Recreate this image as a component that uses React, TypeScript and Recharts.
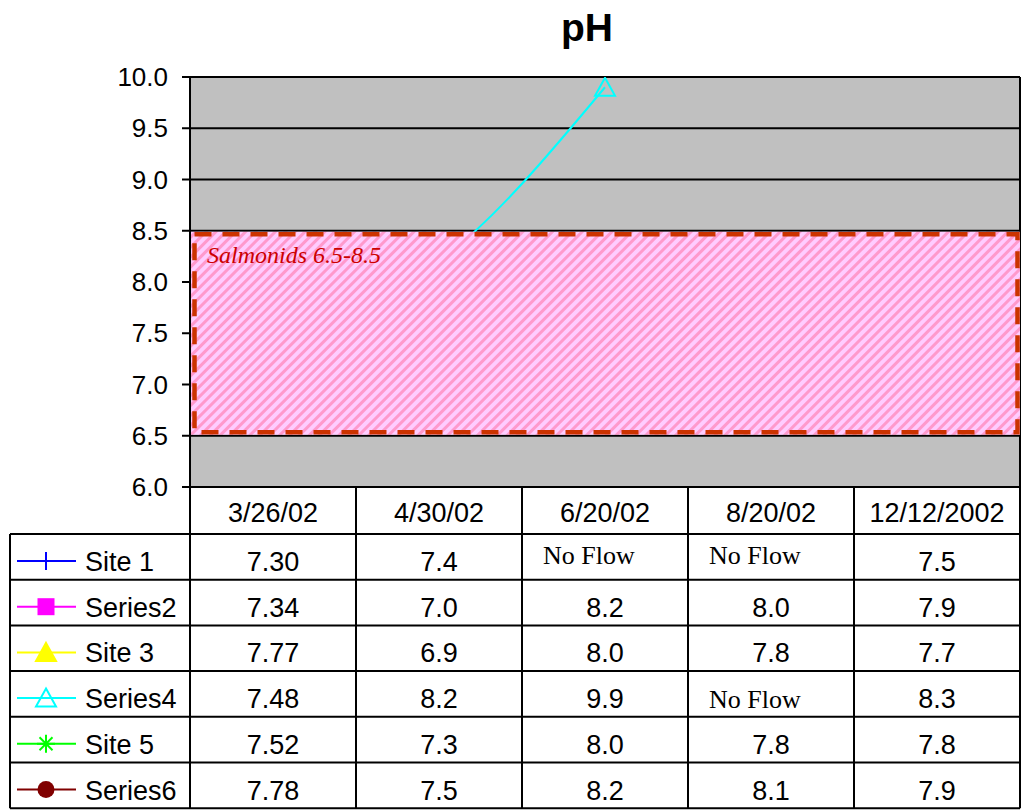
import React from "react";
import {
  LineChart,
  Line,
  XAxis,
  YAxis,
  CartesianGrid,
  ReferenceArea,
} from "recharts";

const CATEGORIES = ["3/26/02", "4/30/02", "6/20/02", "8/20/02", "12/12/2002"];
const SITE_1 = [7.3, 7.4, null, null, 7.5];
const SERIES_2 = [7.34, 7.0, 8.2, 8.0, 7.9];
const SITE_3 = [7.77, 6.9, 8.0, 7.8, 7.7];
const SERIES_4 = [7.48, 8.2, 9.9, null, 8.3];
const SITE_5 = [7.52, 7.3, 8.0, 7.8, 7.8];
const SERIES_6 = [7.78, 7.5, 8.2, 8.1, 7.9];
const Y_TICKS = [6, 6.5, 7, 7.5, 8, 8.5, 9, 9.5, 10];
const COLUMN_DECIMALS = [2, 1, 1, 1, 1];
const BAND_LOW = 6.5;
const BAND_HIGH = 8.5;
const BAND_LABEL = "Salmonids 6.5-8.5";
const NO_DATA = "No Flow";

const SERIES = [
  { key: "s1", name: "Site 1", values: SITE_1, color: "#0000FF", marker: "plus", noFlowDy: -7 },
  { key: "s2", name: "Series2", values: SERIES_2, color: "#FF00FF", marker: "square", noFlowDy: 0 },
  { key: "s3", name: "Site 3", values: SITE_3, color: "#FFFF00", marker: "triangle", noFlowDy: 0 },
  { key: "s4", name: "Series4", values: SERIES_4, color: "#00FFFF", marker: "triangleOpen", noFlowDy: 0 },
  { key: "s5", name: "Site 5", values: SITE_5, color: "#00FF00", marker: "star", noFlowDy: 0 },
  { key: "s6", name: "Series6", values: SERIES_6, color: "#800000", marker: "circle", noFlowDy: 0 },
];

const data = CATEGORIES.map((date, i) => {
  const row: any = { date };
  SERIES.forEach((s) => (row[s.key] = s.values[i]));
  return row;
});

// layout
const W = 1028;
const H = 811;
const PLOT_LEFT = 190;
const PLOT_RIGHT = 1020;
const COL_W = (PLOT_RIGHT - PLOT_LEFT) / CATEGORIES.length;
const LEGEND_W = 180;
const HEADER_H = 47;
const ROW_H = 45.7;
const TABLE_FONT = 27;
const SANS = "'Liberation Sans', Arial, sans-serif";
const SERIF = "'Liberation Serif', 'Times New Roman', serif";

const Marker = ({ type, cx, cy, color }: any) => {
  const r = 9;
  switch (type) {
    case "plus":
      return (
        <g stroke={color} strokeWidth={2}>
          <line x1={cx} y1={cy - r} x2={cx} y2={cy + r} />
          <line x1={cx - r} y1={cy} x2={cx + r} y2={cy} />
        </g>
      );
    case "square":
      return <rect x={cx - 8.5} y={cy - 8.5} width={17} height={17} fill={color} />;
    case "triangle":
    case "triangleOpen":
      return (
        <polygon
          points={`${cx},${cy - 9.5} ${cx + 10},${cy + 8.5} ${cx - 10},${cy + 8.5}`}
          fill={type === "triangle" ? color : "none"}
          stroke={color}
          strokeWidth={2}
        />
      );
    case "star":
      return (
        <g stroke={color} strokeWidth={2}>
          <line x1={cx} y1={cy - r} x2={cx} y2={cy + r} />
          <line x1={cx - r} y1={cy} x2={cx + r} y2={cy} />
          <line x1={cx - 6.5} y1={cy - 6.5} x2={cx + 6.5} y2={cy + 6.5} />
          <line x1={cx - 6.5} y1={cy + 6.5} x2={cx + 6.5} y2={cy - 6.5} />
        </g>
      );
    default:
      return <circle cx={cx} cy={cy} r={8.5} fill={color} />;
  }
};

const makeDot = (s: any) => (p: any) => {
  if (p.value == null || p.cy == null || Number.isNaN(p.cy)) return <g key={`${s.key}-${p.index}`} />;
  return (
    <g key={`${s.key}-${p.index}`}>
      <Marker type={s.marker} cx={p.cx} cy={p.cy} color={s.color} />
    </g>
  );
};

// the band spans the whole category axis, including its half-column padding
const BandShape = (p: any) => {
  const x = p.x - COL_W / 2;
  const width = p.width + COL_W;
  const { y, height } = p;
  return (
    <g>
      <rect x={x + 1} y={y + 1} width={width - 1} height={height - 2} fill="url(#hatch)" />
      <rect
        x={x + 4.5}
        y={y + 3.5}
        width={width - 7}
        height={height - 7}
        fill="none"
        stroke="#CC3300"
        strokeWidth={4.5}
        strokeDasharray="17 11"
      />
      <text x={x + 17} y={y + 32} fontFamily={SERIF} fontStyle="italic" fontSize={24} fill="#CC0000">
        {BAND_LABEL}
      </text>
    </g>
  );
};

const fmt = (v: number | null, col: number) => (v == null ? null : v.toFixed(COLUMN_DECIMALS[col]));

const TableTick = (props: any) => {
  const { x, y, payload } = props;
  const col = payload.index;
  const left = x - COL_W / 2;
  const right = x + COL_W / 2;
  const rowsTop = y + HEADER_H;
  const bottom = rowsTop + ROW_H * SERIES.length;
  const legendLeft = left - LEGEND_W;
  const lines = [];
  lines.push(<line key="r" x1={right} y1={y} x2={right} y2={bottom} />);
  if (col === 0) {
    lines.push(<line key="l" x1={left} y1={y} x2={left} y2={bottom} />);
    lines.push(<line key="ll" x1={legendLeft} y1={rowsTop} x2={legendLeft} y2={bottom} />);
  }
  for (let k = 0; k <= SERIES.length; k++) {
    const yy = rowsTop + k * ROW_H;
    lines.push(<line key={`h${k}`} x1={col === 0 ? legendLeft : left} y1={yy} x2={right} y2={yy} />);
  }
  return (
    <g>
      <g stroke="#000" strokeWidth={2}>{lines}</g>
      <text x={x} y={y + 35} textAnchor="middle" fontFamily={SANS} fontSize={TABLE_FONT} fill="#000">
        {payload.value}
      </text>
      {SERIES.map((s, r) => {
        const top = rowsTop + r * ROW_H;
        const txt = fmt(s.values[col], col);
        if (txt == null) {
          return (
            <text key={s.key} x={left + 21} y={top + 37 + s.noFlowDy} fontFamily={SERIF} fontSize={26} fill="#000">
              {NO_DATA}
            </text>
          );
        }
        return (
          <text key={s.key} x={x} y={top + 37} textAnchor="middle" fontFamily={SANS} fontSize={TABLE_FONT} fill="#000">
            {txt}
          </text>
        );
      })}
      {col === 0 &&
        SERIES.map((s, r) => {
          const cy = rowsTop + r * ROW_H + 27;
          return (
            <g key={`lg-${s.key}`}>
              <line x1={legendLeft + 7} y1={cy} x2={legendLeft + 66} y2={cy} stroke={s.color} strokeWidth={2} />
              <Marker type={s.marker} cx={legendLeft + 36} cy={cy} color={s.color} />
              <text x={legendLeft + 75} y={cy + 10} fontFamily={SANS} fontSize={TABLE_FONT} fill="#000">
                {s.name}
              </text>
            </g>
          );
        })}
    </g>
  );
};

export default function App() {
  return (
    <div style={{ position: "absolute", left: 0, top: 0, width: W, height: H, background: "#fff" }}>
      <LineChart width={W} height={H} data={data} margin={{ top: 77, right: 0, bottom: 2, left: 0 }}>
        <defs>
          <pattern id="hatch" patternUnits="userSpaceOnUse" width={7} height={7} patternTransform="rotate(45)">
            <rect x={0} y={0} width={7} height={7} fill="#FFCCFF" />
            <rect x={0} y={0} width={3} height={7} fill="#FF99CC" />
          </pattern>
        </defs>
        <CartesianGrid vertical={false} stroke="#000" strokeWidth={2} fill="#C0C0C0" fillOpacity={1} />
        <XAxis
          dataKey="date"
          height={322}
          interval={0}
          padding={{ left: COL_W / 2, right: COL_W / 2 }}
          tickSize={0}
          tickMargin={0}
          tickLine={false}
          axisLine={{ stroke: "#000", strokeWidth: 2 }}
          tick={<TableTick />}
        />
        <YAxis
          type="number"
          domain={[6, 10]}
          ticks={Y_TICKS}
          allowDataOverflow
          width={PLOT_LEFT}
          tickSize={8}
          tickMargin={14}
          tickFormatter={(v: number) => v.toFixed(1)}
          axisLine={{ stroke: "#000", strokeWidth: 2 }}
          tickLine={{ stroke: "#000", strokeWidth: 2 }}
          tick={{ fill: "#000", fontSize: 26, fontFamily: SANS }}
        />
        <YAxis
          yAxisId="right"
          orientation="right"
          width={W - PLOT_RIGHT}
          domain={[6, 10]}
          tick={false}
          tickLine={false}
          axisLine={{ stroke: "#000", strokeWidth: 2 }}
        />
        {SERIES.map((s) => (
          <Line
            key={s.key}
            dataKey={s.key}
            name={s.name}
            type="monotone"
            stroke={s.color}
            strokeWidth={2}
            dot={makeDot(s)}
            activeDot={false}
            isAnimationActive={false}
          />
        ))}
        <ReferenceArea
          y1={BAND_LOW}
          y2={BAND_HIGH}
          shape={BandShape}
          {...({ zIndex: 1500 } as any)}
        />
      </LineChart>
      <div
        style={{
          position: "absolute",
          left: 487,
          top: 6,
          width: 200,
          textAlign: "center",
          fontFamily: SANS,
          fontWeight: "bold",
          fontSize: 39,
          lineHeight: "normal",
        }}
      >
        pH
      </div>
    </div>
  );
}
